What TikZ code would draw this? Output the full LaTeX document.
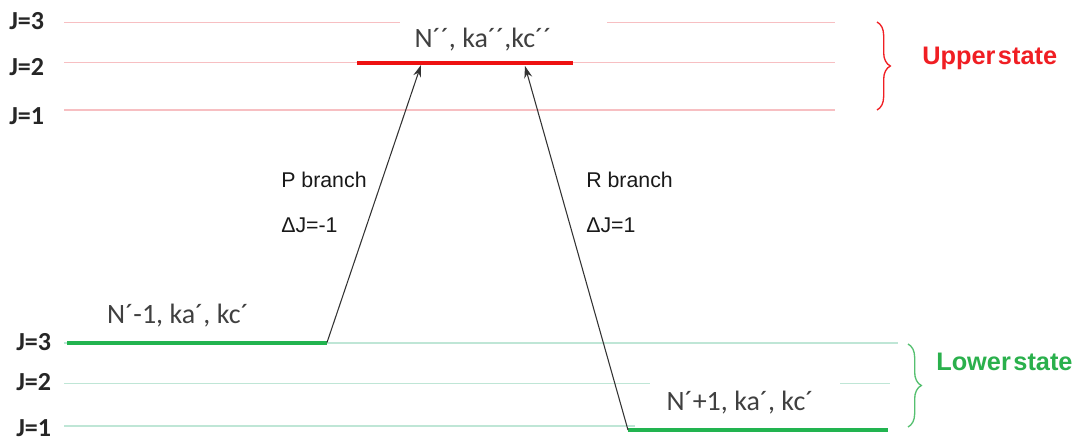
\documentclass[tikz,border=0pt]{standalone}
\usepackage{fontspec}
\setmainfont{Carlito}
\newfontfamily\arialf{Liberation Sans}
\usetikzlibrary{arrows.meta,decorations.pathreplacing}
\definecolor{upfaint}{HTML}{F7BFC2}
\definecolor{lowfaint}{HTML}{BFE6D6}
\definecolor{upred}{HTML}{EE1111}
\definecolor{upredtxt}{HTML}{F01E23}
\definecolor{lowgreen}{HTML}{22B450}
\definecolor{lowgreentxt}{HTML}{2AB04C}
\definecolor{arrowgray}{HTML}{333333}
\tikzset{
  jlabel/.style={anchor=base west, inner sep=0pt, font=\fontsize{19.5}{22}\selectfont\bfseries, text=black!85},
  lvltext/.style={anchor=base, inner sep=0pt, font=\fontsize{21}{24}\selectfont, text=black!75},
  branchtxt/.style={anchor=base west, inner sep=0pt, font=\arialf\fontsize{16}{18}\selectfont, text=black!90},
  statetxt/.style={anchor=base west, inner sep=0pt, font=\arialf\bfseries\fontsize{19}{21}\selectfont},
  upline/.style={draw=upfaint, line width=0.8pt},
  lowline/.style={draw=lowfaint, line width=0.8pt},
  uplevel/.style={draw=upred, line width=3pt},
  lowlevel/.style={draw=lowgreen, line width=3pt},
  transition/.style={draw=arrowgray, line width=0.8pt, -{Stealth[length=9pt,width=6pt]}},
  statebrace/.style={decorate, decoration={brace, amplitude=10pt}, line width=1pt}
}
\begin{document}
\begin{tikzpicture}[x=0.75pt,y=-0.75pt]
\useasboundingbox[fill=white] (0,0) rectangle (1079,439);

% J labels
\node[jlabel] (uJ3) at (9,29) {J=3};
\node[jlabel] (uJ2) at (9,75) {J=2};
\node[jlabel] (uJ1) at (9,124) {J=1};
\node[jlabel] (lJ3) at (16,350) {J=3};
\node[jlabel] (lJ2) at (16,390) {J=2};
\node[jlabel] (lJ1) at (16,436) {J=1};

% upper faint lines
\draw[upline] (64,22.5) -- (400,22.5);
\draw[upline] (607,22.5) -- (835,22.5);
\draw[upline] (64,62.5) -- (835,62.5);
\draw[upline] (64,110) -- (835,110);

% lower faint lines
\draw[lowline] (64,343) -- (898,343);
\draw[lowline] (64,383.5) -- (650,383.5);
\draw[lowline] (840,383.5) -- (890,383.5);
\draw[lowline] (64,426) -- (635,426);

% level bars
\coordinate (ua) at (357,63);
\coordinate (ub) at (573,63);
\coordinate (pa) at (67,342.5);
\coordinate (pb) at (327,342.5);
\coordinate (ra) at (628,430);
\coordinate (rb) at (888,430);
\draw[uplevel] (ua) -- (ub);
\draw[lowlevel] (pa) -- (pb);
\draw[lowlevel] (ra) -- (rb);

% level texts
\node[lvltext] (utext) at (483,47) {N´´, ka´´,kc´´};
\node[lvltext] (ptext) at (178,323) {N´-1, ka´, kc´};
\node[lvltext] (rtext) at (740,410) {N´+1, ka´, kc´};

% transitions
\coordinate (ptip) at (421,65);
\coordinate (rtip) at (525,66);
\draw[transition] (pb) -- (ptip);
\draw[transition] (ra) -- (rtip);

% branch labels
\node[branchtxt] (pbr) at (281,187) {P branch};
\node[branchtxt] (pdj) at (281,232) {ΔJ=-1};
\node[branchtxt] (rbr) at (586,187) {R branch};
\node[branchtxt] (rdj) at (586,232) {ΔJ=1};

% braces
\coordinate (ubt) at (877,22);
\coordinate (ubb) at (877,110);
\coordinate (lbt) at (908,344);
\coordinate (lbb) at (908,427);
\draw[statebrace, draw=upredtxt] (ubt) -- (ubb);
\draw[statebrace, draw=lowgreentxt!80] (lbt) -- (lbb);

% state labels
\node[statetxt, text=upredtxt] (ustate) at (922,64) {Upper\hspace{0.1em}state};
\node[statetxt, text=lowgreentxt] (lstate) at (936,370) {Lower\hspace{0.1em}state};
\end{tikzpicture}
\end{document}
